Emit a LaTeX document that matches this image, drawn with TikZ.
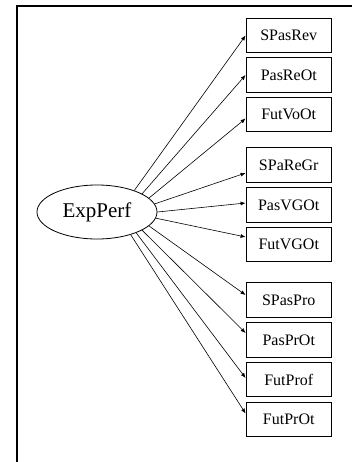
\documentclass[tikz,border=0pt]{standalone}
\usepackage{fontspec}
\setmainfont{Liberation Serif}
\usetikzlibrary{arrows.meta,shapes.geometric}
\begin{document}
\begin{tikzpicture}[x=1pt,y=-1pt,
  obs/.style={draw,line width=0.8pt,minimum width=85.5pt,minimum height=34.5pt,inner sep=0pt,font=\fontsize{16}{19}\selectfont},
  lat/.style={draw,ellipse,line width=0.8pt,minimum width=120pt,minimum height=54pt,inner sep=0pt,font=\fontsize{21}{25}\selectfont},
  path/.style={line width=0.6pt,-{Latex[length=5pt,width=4pt]}}]
\useasboundingbox (0,0) rectangle (352,462);
\coordinate (fa) at (352,6.5);
\coordinate (fb) at (16.5,6.5);
\coordinate (fc) at (16.5,462);
\draw[line width=2pt] (fa) -- (fb) -- (fc);
\node[lat] (e) at (97,212) {ExpPerf};
\node[obs] (b1) at (288.75,35.5) {SPasRev};
\node[obs] (b2) at (288.75,75) {PasReOt};
\node[obs] (b3) at (288.75,114.5) {FutVoOt};
\node[obs] (b4) at (288.75,165) {SPaReGr};
\node[obs] (b5) at (288.75,205) {PasVGOt};
\node[obs] (b6) at (288.75,244.5) {FutVGOt};
\node[obs] (b7) at (288.75,300) {SPasPro};
\node[obs] (b8) at (288.75,340) {PasPrOt};
\node[obs] (b9) at (288.75,379.5) {FutProf};
\node[obs] (b10) at (288.75,419.5) {FutPrOt};
\draw[path] (e.30) -- ([yshift=0pt]b1.west);
\draw[path] (e.22) -- ([yshift=0pt]b2.west);
\draw[path] (e.15) -- ([yshift=-4pt]b3.west);
\draw[path] (e.8) -- ([yshift=-8pt]b4.west);
\draw[path] (e.0) -- ([yshift=2pt]b5.west);
\draw[path] (e.-6) -- ([yshift=7.5pt]b6.west);
\draw[path] (e.-15) -- ([yshift=5pt]b7.west);
\draw[path] (e.-22) -- ([yshift=7pt]b8.west);
\draw[path] (e.-28) -- ([yshift=1.5pt]b9.west);
\draw[path] (e.-34) -- ([yshift=6pt]b10.west);
\end{tikzpicture}
\end{document}
